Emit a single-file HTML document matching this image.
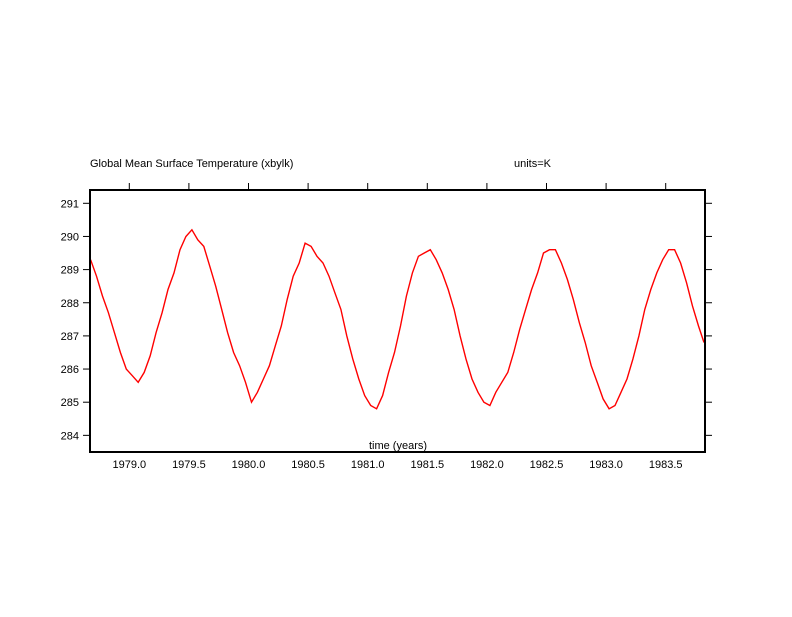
<!DOCTYPE html>
<html><head><meta charset="utf-8"><style>
body{margin:0;background:#fff}
svg text{font-family:"Liberation Sans",sans-serif;font-size:11px;fill:#000}
</style></head><body>
<svg id="c" width="792" height="612">
<text x="90" y="167">Global Mean Surface Temperature (xbylk)</text>
<text x="514" y="167">units=K</text>
<text x="398" y="449" text-anchor="middle">time (years)</text>
<g id="ax"></g>
<path id="ln" fill="none" stroke="#ff0000" stroke-width="1.4"/>
<rect x="90" y="190" width="615" height="262" fill="none" stroke="#000" stroke-width="2"/>
</svg>
<script>
const xTicks=[1979.0,1979.5,1980.0,1980.5,1981.0,1981.5,1982.0,1982.5,1983.0,1983.5];
const yTicks=[284,285,286,287,288,289,290,291];
const tStart=1978.675, tStep=0.05;
const temps=[289.3,288.8,288.2,287.7,287.1,286.5,286.0,285.8,285.6,285.9,286.4,287.1,287.7,288.4,288.9,289.6,290.0,290.2,289.9,289.7,289.1,288.5,287.8,287.1,286.5,286.1,285.6,285.0,285.3,285.7,286.1,286.7,287.3,288.1,288.8,289.2,289.8,289.7,289.4,289.2,288.8,288.3,287.8,287.0,286.3,285.7,285.2,284.9,284.8,285.2,285.9,286.5,287.3,288.2,288.9,289.4,289.5,289.6,289.3,288.9,288.4,287.8,287.0,286.3,285.7,285.3,285.0,284.9,285.3,285.6,285.9,286.5,287.2,287.8,288.4,288.9,289.5,289.6,289.6,289.2,288.7,288.1,287.4,286.8,286.1,285.6,285.1,284.8,284.9,285.3,285.7,286.3,287.0,287.8,288.4,288.9,289.3,289.6,289.6,289.2,288.6,287.9,287.3,286.8];
const X=t=>129.3+(t-1979.0)*119.2;
const Y=v=>203.3+(291-v)*33.15;
const ns="http://www.w3.org/2000/svg";
const ax=document.getElementById('ax');
function mk(tag,a){const e=document.createElementNS(ns,tag);for(const k in a)e.setAttribute(k,a[k]);ax.appendChild(e);return e;}
xTicks.forEach(t=>{
  const l=mk('line',{x1:X(t),x2:X(t),y1:183,y2:190,stroke:'#000','stroke-width':1});
  
  
  const tx=mk('text',{x:X(t),y:468,'text-anchor':'middle'});tx.textContent=t.toFixed(1);
  
  
});
yTicks.forEach(v=>{
  const l=mk('line',{x1:83,x2:90,y1:Y(v),y2:Y(v),stroke:'#000','stroke-width':1});
  
  
  const r=mk('line',{x1:705,x2:712,y1:Y(v),y2:Y(v),stroke:'#000','stroke-width':1});
  
  
  const tx=mk('text',{x:79,y:Y(v)+4,'text-anchor':'end'});tx.textContent=v;
  
  
});
let d='';
temps.forEach((v,i)=>{let t=tStart+i*tStep;let x=Math.min(X(t),704);d+=(i?'L':'M')+x.toFixed(1)+','+Y(v).toFixed(1);});
document.getElementById('ln').setAttribute('d',d);
</script>
</body></html>
